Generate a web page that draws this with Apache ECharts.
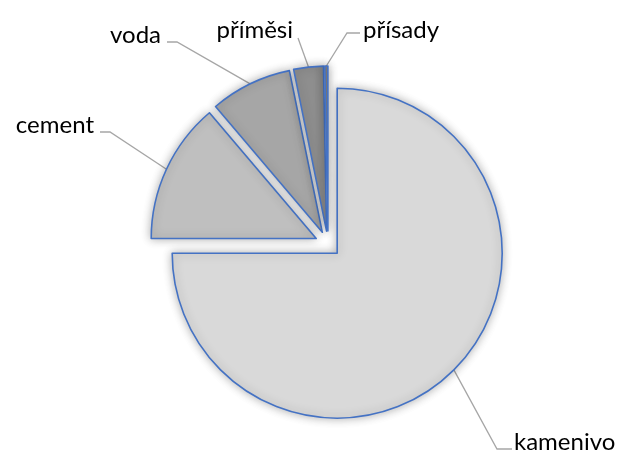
<!DOCTYPE html>
<html>
<head>
<meta charset="utf-8">
<script src="https://cdn.jsdelivr.net/npm/echarts@6/dist/echarts.min.js"></script>
<style>
html,body{margin:0;padding:0;background:#fff;}
#chart{width:618px;height:453px;}
</style>
</head>
<body>
<div id="chart"></div>
<script>
const categories = ['kamenivo', 'cement', 'voda', 'příměsi', 'přísady'];
const values = [75.0, 13.8, 8.0, 2.9, 0.3];
const fillColors = ['#d9d9d9', '#bfbfbf', '#a6a6a6', '#8e8e8e', '#7f7f7f'];

// label placement (style only)
const labelPlace = [
  { x: 514, y: 442, align: 'left',  bend: [497, 449], end: [512, 449] },
  { x: 94,  y: 125, align: 'right', bend: [110, 132], end: [100, 132] },
  { x: 161, y: 35,  align: 'right', bend: [177, 42],  end: [167, 42] },
  { x: 293, y: 30,  align: 'right', bend: [298, 38],  end: [298, 38] },
  { x: 363, y: 30,  align: 'left',  bend: [347, 33],  end: [360, 33] }
];

const CENTER = [328, 244];
const RADIUS = 165;
const EXPLODE = 13;

const chart = echarts.init(document.getElementById('chart'), null, { renderer: 'canvas' });
chart.setOption({
  animation: false,
  backgroundColor: '#ffffff',
  series: [{
    type: 'pie',
    center: CENTER,
    radius: RADIUS,
    startAngle: 90,
    clockwise: true,
    avoidLabelOverlap: false,
    selectedMode: 'multiple',
    selectedOffset: EXPLODE,
    emphasis: { disabled: true },
    itemStyle: {
      borderColor: '#4472c4',
      borderWidth: 1.6,
      shadowBlur: 10,
      shadowColor: 'rgba(0,0,0,0.30)'
    },
    label: { show: false },
    labelLine: { show: false },
    data: categories.map((name, i) => ({
      name: name,
      value: values[i],
      selected: true,
      itemStyle: { color: fillColors[i] }
    }))
  }, {
    // transparent twin used only for labels and leader lines
    type: 'pie',
    center: CENTER,
    radius: RADIUS + EXPLODE,
    startAngle: 90,
    clockwise: true,
    silent: true,
    avoidLabelOverlap: false,
    emphasis: { disabled: true },
    itemStyle: { color: 'rgba(0,0,0,0)', borderWidth: 0 },
    label: {
      show: true,
      position: 'outside',
      formatter: '{b}',
      fontFamily: 'Lato',
      fontSize: 24,
      color: '#000000'
    },
    labelLine: {
      show: true,
      length: 20,
      length2: 10,
      lineStyle: { color: '#a6a6a6', width: 1.3 }
    },
    labelLayout: function (params) {
      const p = labelPlace[params.dataIndex];
      const pts = params.labelLinePoints;
      const res = { x: p.x, y: p.y, align: p.align, verticalAlign: 'middle' };
      if (pts && pts.length) {
        res.labelLinePoints = [pts[0], p.bend, p.end];
      }
      return res;
    },
    data: categories.map((name, i) => ({ name: name, value: values[i] }))
  }]
});
</script>
</body>
</html>
